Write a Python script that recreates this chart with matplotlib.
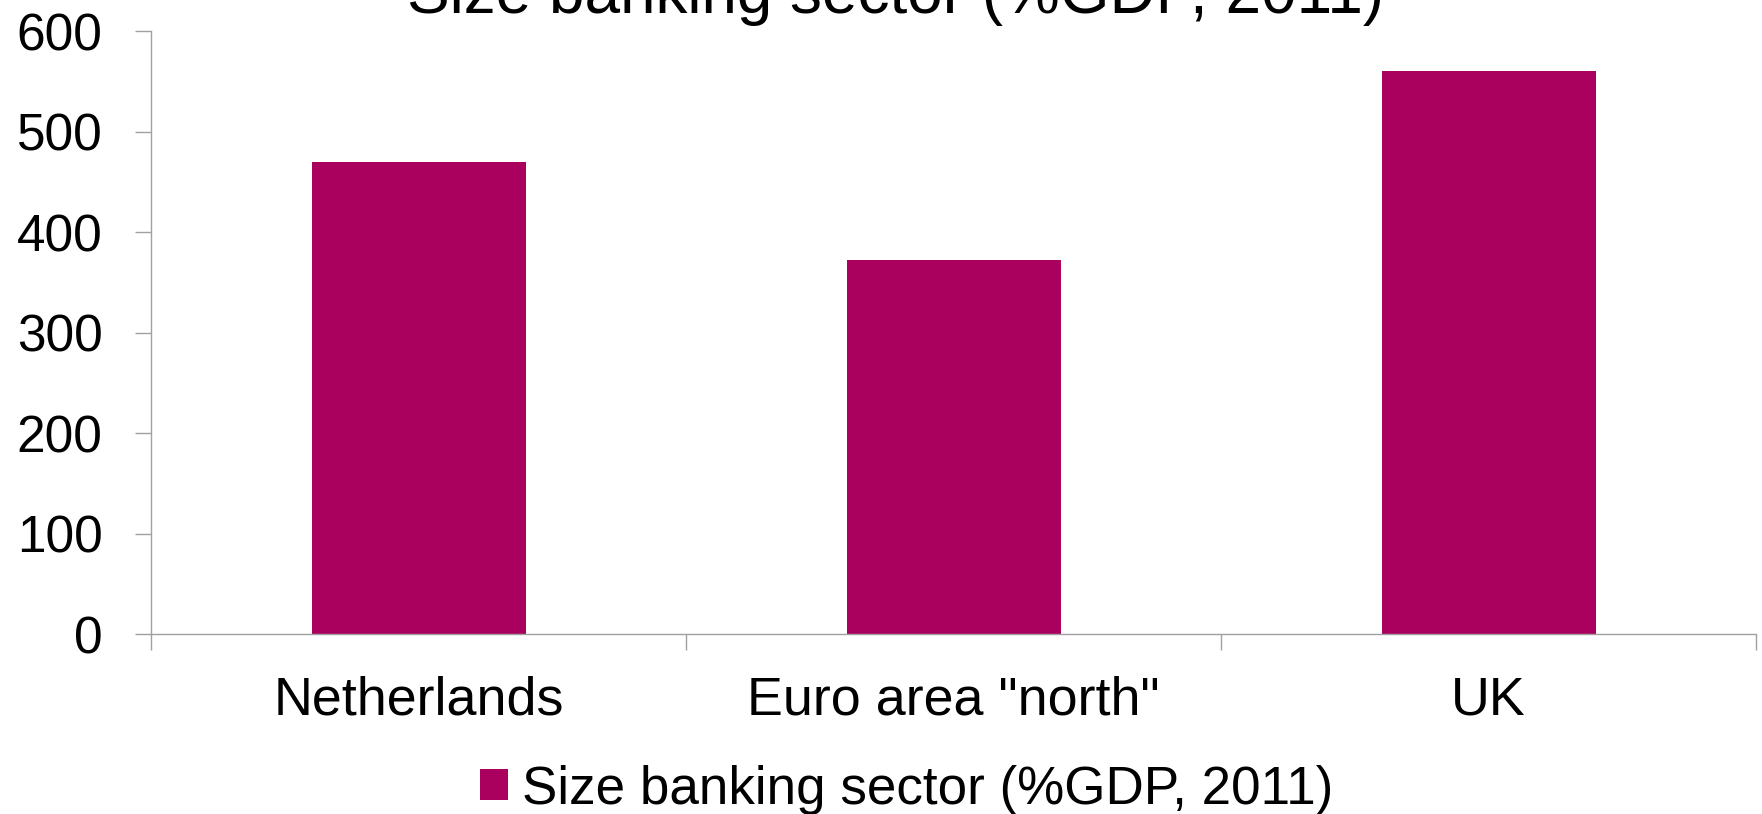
import matplotlib.pyplot as plt

plt.rcParams['font.family'] = ['Liberation Sans', 'DejaVu Sans']

countries = ['Netherlands', 'Euro area "north"', 'UK']
bank_size = [470, 372, 560]
series_name = 'Size banking sector (%GDP, 2011)'

BAR_COLOR = '#AA005E'
AXIS_GREY = '#A0A0A0'

fig = plt.figure(figsize=(17.62, 8.14), dpi=100)
ax = fig.add_axes([0.0857, 0.2208, 0.9109, 0.7411])

x = list(range(len(countries)))
ax.bar(x, bank_size, width=0.4, color=BAR_COLOR, label=series_name, zorder=2)

ax.set_xlim(-0.5, len(countries) - 0.5)
ax.set_ylim(0, 600)
ax.set_yticks(range(0, 601, 100))

# tick marks sit between the categories, labels in the middle
ax.set_xticks([i - 0.5 for i in range(len(countries) + 1)])
ax.set_xticklabels([])
ax.set_xticks(x, minor=True)
ax.set_xticklabels(countries, minor=True)

ax.tick_params(axis='x', which='major', length=11.5, width=1, color=AXIS_GREY, direction='out')
ax.tick_params(axis='x', which='minor', length=0, pad=29.5, labelsize=38.8)
ax.tick_params(axis='y', length=11.5, width=1, color=AXIS_GREY, direction='out', pad=23.5, labelsize=37)

for side in ['top', 'right']:
    ax.spines[side].set_visible(False)
for side in ['left', 'bottom']:
    ax.spines[side].set_color(AXIS_GREY)
    ax.spines[side].set_linewidth(1)

fig.text(0.508, 1 - 13 / 814, series_name, ha='center', va='baseline', fontsize=46)

fig.legend(loc='center', bbox_to_anchor=(0.5145, 0.030), frameon=False, fontsize=38.2,
           handlelength=0.53, handleheight=0.53, handletextpad=0.27, borderpad=0, borderaxespad=0)

fig.savefig('out.png', dpi=100)
